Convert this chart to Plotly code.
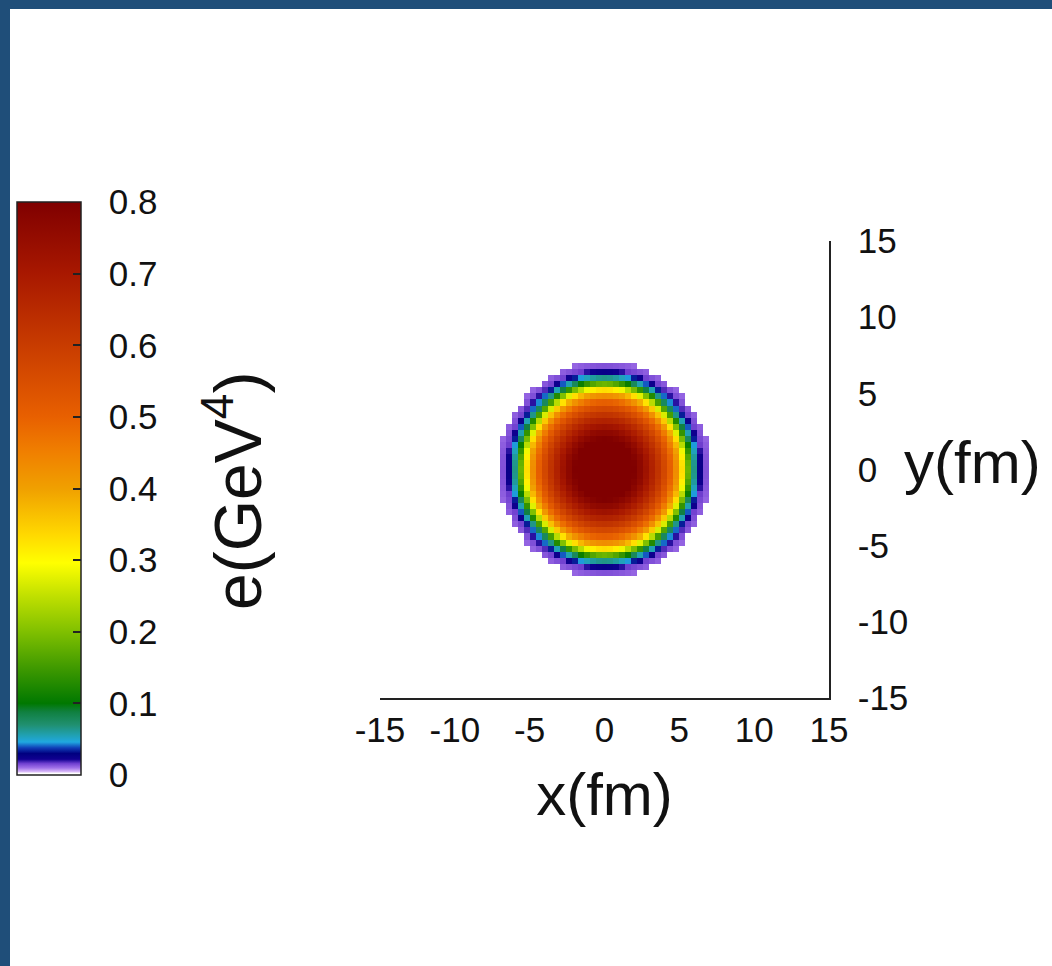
import numpy as np
import plotly.graph_objects as go

# ---- data ----
# radial energy-density profile e(r) of the disk (r in fm, e in GeV^4)
profile_r = [0.0, 0.5, 1.0, 1.5, 2.0, 2.5, 3.0, 3.5, 4.0, 4.5, 5.0, 5.3,
             5.5, 5.7, 5.85, 6.0, 6.2, 6.4, 6.6, 6.9, 7.15]
profile_e = [0.90, 0.89, 0.87, 0.84, 0.80, 0.76, 0.70, 0.64, 0.57, 0.49, 0.39, 0.30,
             0.22, 0.15, 0.10, 0.065, 0.046, 0.026, 0.016, 0.013, 0.011]
edge_radius = 7.12           # fm, outside the disk the field is empty
grid_step = 0.4              # fm, cell size of the map
axis_ticks = [-15, -10, -5, 0, 5, 10, 15]
axis_labels = ["-15", "-10", "-5", "0", "5", "10", "15"]
cbar_ticks = [0, 0.1, 0.2, 0.3, 0.4, 0.5, 0.6, 0.7, 0.8]
cbar_labels = ["0", "0.1", "0.2", "0.3", "0.4", "0.5", "0.6", "0.7", "0.8"]

# ---- build the 2-D field from the radial profile ----
xs = np.arange(-15 + grid_step / 2, 15, grid_step)
ys = np.arange(-15 + grid_step / 2, 15, grid_step)
XX, YY = np.meshgrid(xs, ys)
RR = np.hypot(XX, YY)
Z = np.interp(RR, profile_r, profile_e)
z_list = [[(float(v) if r <= edge_radius else None) for v, r in zip(zr, rr)]
          for zr, rr in zip(Z, RR)]

zmax = 0.8
stops = [
    (0.000, "#ffffff"), (0.003, "#ffffff"), (0.006, "#d8b8f8"), (0.0125, "#a070e8"),
    (0.02, "#7040d0"), (0.0275, "#100090"), (0.0375, "#000080"), (0.0475, "#1040b8"),
    (0.0575, "#20a8e0"), (0.07, "#20a0b0"), (0.0875, "#209070"), (0.11, "#108040"),
    (0.125, "#007800"), (0.1875, "#409a00"), (0.25, "#80c000"), (0.3125, "#c0e000"),
    (0.37, "#ffff00"), (0.42, "#ffd800"), (0.5, "#f0a000"), (0.5625, "#f08000"),
    (0.625, "#e86000"), (0.75, "#c83c00"), (0.875, "#a81800"), (1.0, "#800000"),
]

FONT = "Liberation Sans, Arial, sans-serif"
TICK_SIZE = 35
TITLE_SIZE = 60

# plot-area pixel geometry
W, H = 1052, 966
L, R, T, B = 380, 1052 - 829, 241, 966 - 698
pw, ph = W - L - R, H - T - B


def px_x(px):
    return (px - L) / pw


def px_y(py):
    return (H - B - py) / ph


fig = go.Figure()
fig.add_trace(go.Heatmap(
    x=xs, y=ys, z=z_list, zmin=0, zmax=zmax, zsmooth=False,
    colorscale=[[s, c] for s, c in stops],
    hoverongaps=False,
    colorbar=dict(
        x=px_x(17), xanchor="left", xpad=0,
        y=px_y(488.5), yanchor="middle", ypad=0,
        len=573, lenmode="pixels",
        thickness=64, thicknessmode="pixels",
        outlinecolor="#222222", outlinewidth=1.5,
        ticks="inside", ticklen=8, tickcolor="#222222", tickwidth=1.5,
        tickvals=cbar_ticks, ticktext=["\u00a0\u00a0" + t for t in cbar_labels],
        tickfont=dict(family=FONT, size=TICK_SIZE, color="#111111"),
    ),
))

border = "#1f4e79"
fig.update_layout(
    width=W, height=H,
    margin=dict(l=L, r=R, t=T, b=B, pad=0),
    paper_bgcolor="white", plot_bgcolor="white",
    font=dict(family=FONT, color="#111111"),
    xaxis=dict(
        range=[-15, 15], tickvals=axis_ticks, ticktext=axis_labels, ticks="",
        showgrid=False, zeroline=False,
        showline=True, linecolor="#222222", linewidth=1.5,
        tickfont=dict(family=FONT, size=TICK_SIZE), ticklabelstandoff=0,
        title=dict(text="x(fm)", font=dict(family=FONT, size=TITLE_SIZE), standoff=25),
    ),
    yaxis=dict(
        range=[-15, 15], tickvals=axis_ticks, ticktext=axis_labels, ticks="",
        showgrid=False, zeroline=False,
        side="right", showline=True, linecolor="#222222", linewidth=1.5,
        tickfont=dict(family=FONT, size=TICK_SIZE), ticklabelstandoff=20,
    ),
    annotations=[
        dict(text="y(fm)", xref="paper", yref="paper", x=px_x(902), y=px_y(462),
             xanchor="left", yanchor="middle", showarrow=False,
             font=dict(family=FONT, size=TITLE_SIZE, color="#111111")),
        dict(text="e(GeV<sup>4</sup>)", xref="paper", yref="paper", x=px_x(233), y=px_y(491),
             xanchor="center", yanchor="middle", showarrow=False, textangle=-90,
             font=dict(family=FONT, size=66, color="#111111")),
    ],
    shapes=[
        dict(type="rect", xref="paper", yref="paper", x0=px_x(-20), x1=px_x(W + 20),
             y0=px_y(9), y1=px_y(-20), fillcolor=border, line=dict(width=0), layer="above"),
        dict(type="rect", xref="paper", yref="paper", x0=px_x(-20), x1=px_x(10),
             y0=px_y(H + 20), y1=px_y(-20), fillcolor=border, line=dict(width=0), layer="above"),
    ],
)

fig.write_html("out.html")
